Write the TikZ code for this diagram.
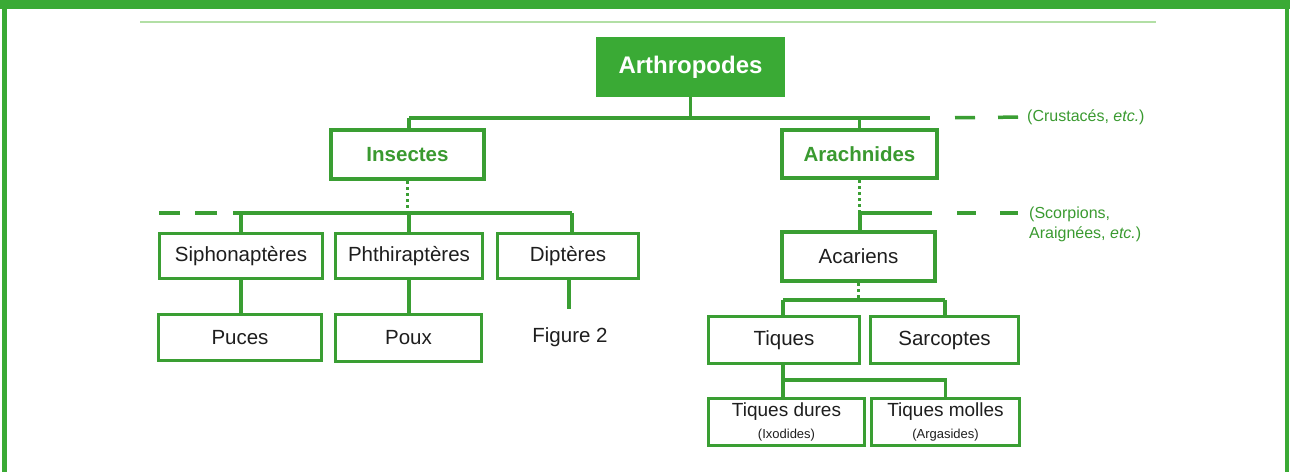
\documentclass[tikz,border=0pt]{standalone}
\usepackage{fontspec}
\setmainfont{Liberation Sans}
\definecolor{gbar}{HTML}{3AAA35}
\definecolor{gbox}{HTML}{3A9E33}
\definecolor{gtxt}{HTML}{3A9A30}
\definecolor{glight}{HTML}{B2DFA5}
\definecolor{ink}{HTML}{1E1E1E}
\begin{document}
\begin{tikzpicture}[x=1pt,y=-1pt,
  box/.style={draw=gbox,line width=2.8pt,fill=white,rectangle,inner sep=0pt,
    text=ink,font=\fontsize{20.5}{24}\selectfont},
  boldbox/.style={box,line width=4pt},
  gbold/.style={font=\fontsize{20.5}{24}\selectfont\bfseries,text=gtxt},
  conn/.style={draw=gbox,line width=3.5pt},
  dotline/.style={draw=gbox,line width=3pt,dash pattern=on 2.5pt off 3.5pt},
  note/.style={text=gtxt,font=\fontsize{16}{20}\selectfont,inner sep=0pt,anchor=west}]
\useasboundingbox (0,0) rectangle (1290,472);
% frame
\fill[gbar] (0,0) rectangle (1290,8.5);
\fill[gbar] (2,0) rectangle (6.5,472);
\fill[gbar] (1284.5,0) rectangle (1289,472);
\draw[glight,line width=1.5pt] (140,22) -- (1156,22);
% nodes
\node[fill=gbar,minimum width=189pt,minimum height=60pt,inner sep=0pt,text=white,
  font=\fontsize{24}{28}\selectfont\bfseries] (arth) at (690.5,67) {Arthropodes};
\node[boldbox,gbold,minimum width=153pt,minimum height=49pt] (ins) at (407.5,154.5) {Insectes};
\node[boldbox,gbold,minimum width=155pt,minimum height=48pt] (ara) at (859.5,154) {Arachnides};
\node[box,minimum width=163.5pt,minimum height=45.5pt] (siph) at (241,256) {Siphonaptères};
\node[box,minimum width=147.5pt,minimum height=45.5pt] (phth) at (409,256) {Phthiraptères};
\node[box,minimum width=141.5pt,minimum height=45.5pt] (dipt) at (568,256) {Diptères};
\node[box,minimum width=163.5pt,minimum height=46.5pt] (puces) at (240,337.5) {Puces};
\node[box,minimum width=146.5pt,minimum height=47.5pt] (poux) at (408.5,338) {Poux};
\node[text=ink,font=\fontsize{20.5}{24}\selectfont,inner sep=0pt] (fig) at (570,337) {Figure 2};
\node[boldbox,minimum width=153pt,minimum height=49pt] (acar) at (858.5,256.5) {Acariens};
\node[box,minimum width=151.5pt,minimum height=47.5pt] (tiq) at (784,340) {Tiques};
\node[box,minimum width=148.5pt,minimum height=47.5pt] (sarc) at (944.5,340) {Sarcoptes};
\node[box,minimum width=156.5pt,minimum height=47.5pt,align=center,
  font=\fontsize{19}{21}\selectfont] (tdur) at (786.5,422)
  {Tiques dures\\[1pt]{\fontsize{13}{15}\selectfont (Ixodides)}};
\node[box,minimum width=148.5pt,minimum height=47.5pt,align=center,
  font=\fontsize{19}{21}\selectfont] (tmol) at (945.5,422)
  {Tiques molles\\[1pt]{\fontsize{13}{15}\selectfont (Argasides)}};
\node[note] (crust) at (1027,117) {(Crustacés, \textit{etc.})};
\node[note,anchor=north west,align=left,font=\fontsize{16}{20}\selectfont] (scorp) at (1029,207)
  {(Scorpions,\\Araignées, \textit{etc.})};
% coordinates
\coordinate (b1L) at (409,118);
\coordinate (b1R) at (930,118);
\coordinate (b2L) at (233,213);
\coordinate (b2R) at (572,213);
\coordinate (d2L) at (159,213);
\coordinate (b3L) at (860,213);
\coordinate (b3R) at (932,213);
\coordinate (b4L) at (783,300);
\coordinate (b4R) at (945,300);
\coordinate (b5) at (783,380);
\coordinate (dEnd) at (569,309);
% top bus
\draw[conn] (b1L) -- (b1R);
\draw[conn] (arth.south) -- (arth.south |- b1L);
\draw[conn] (b1L) -- (b1L |- ins.north);
\draw[conn] (ara.north |- b1L) -- (ara.north);
\draw[conn,dash pattern=on 0pt off 25pt on 20pt off 23pt on 20pt off 200pt] (b1R) -- (crust.west);
% insect bus
\draw[dotline] (ins.south) -- ([yshift=-1pt]ins.south |- b2L);
\draw[conn] (b2L) -- (b2R);
\draw[conn,dash pattern=on 0pt off 16pt on 22pt off 15pt on 21pt off 200pt] (b2L) -- (d2L);
\draw[conn] (siph.north |- b2L) -- (siph.north);
\draw[conn] (phth.north |- b2L) -- (phth.north);
\draw[conn] (b2R) -- (b2R |- dipt.north);
\draw[conn] (siph.south) -- (siph.south |- puces.north);
\draw[conn] (phth.south) -- (phth.south |- poux.north);
\draw[conn] (dipt.south -| dEnd) -- (dEnd);
% arachnid bus
\draw[dotline] (ara.south) -- ([yshift=-2pt]ara.south |- b3L);
\draw[conn] (b3L) -- (b3R);
\draw[conn,dash pattern=on 0pt off 25pt on 19pt off 24pt on 18pt off 200pt] (b3R) -- (scorp.north west |- b3R);
\draw[conn] (b3L) -- (b3L |- acar.north);
% acariens bus
\draw[dotline] (acar.south) -- ([yshift=-2pt]acar.south |- b4L);
\draw[conn] (b4L) -- (b4R);
\draw[conn] (b4L) -- (b4L |- tiq.north);
\draw[conn] (b4R) -- (b4R |- sarc.north);
% tiques bus
\draw[conn] (tiq.south -| b5) -- (b5 |- tdur.north);
\draw[conn] (b5) -| (tmol.north);
\end{tikzpicture}
\end{document}
